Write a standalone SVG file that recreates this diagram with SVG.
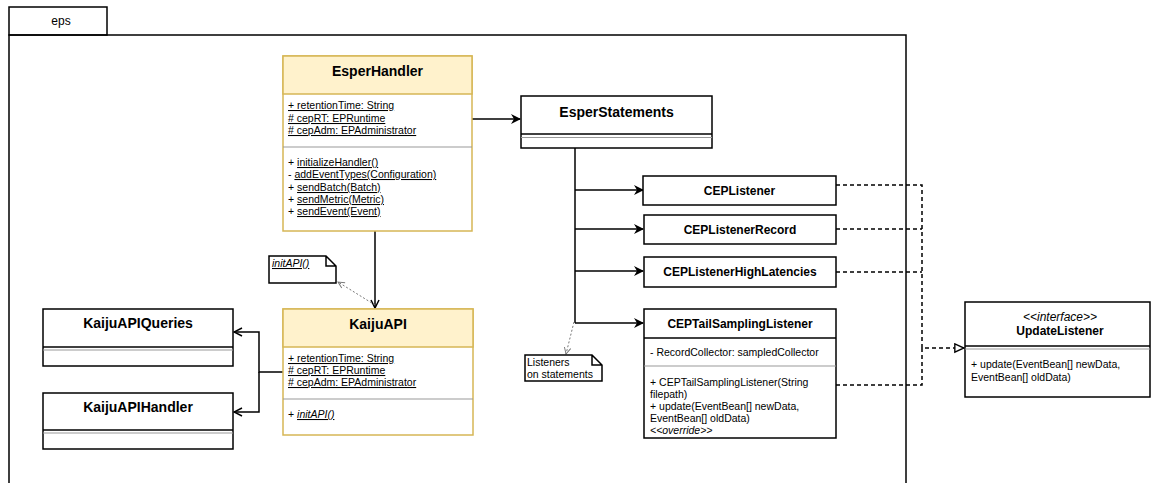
<svg xmlns="http://www.w3.org/2000/svg" width="1151" height="483" viewBox="0 0 1151 483">
  <style>
    text { font-family: "Liberation Sans", Arial, Helvetica, sans-serif; fill: #000; }
    .title { font-size: 14px; font-weight: bold; text-anchor: middle; }
    .small { font-size: 12px; }
    .body { font-size: 10.5px; }
    .stereo { font-size: 12px; font-style: italic; text-anchor: middle; }
    .pkg { font-size: 12px; text-anchor: middle; }
    .u { text-decoration: underline; }
    .i { font-style: italic; }
    .box { fill: #fff; stroke: #000; stroke-width: 1.5; }
    .ybox { fill: #fff; stroke: #d6b656; stroke-width: 1.5; }
    .yhead { fill: #fff2cc; stroke: #d6b656; stroke-width: 1.5; }
    .sep { stroke: #000; stroke-width: 1.5; }
    .thin { stroke: #999; stroke-width: 1; }
    .edge { fill: none; stroke: #000; stroke-width: 1.5; }
    .dash { fill: none; stroke: #000; stroke-width: 1.5; stroke-dasharray: 4 3; }
    .dot { fill: none; stroke: #777; stroke-width: 1; stroke-dasharray: 2 2; }
  </style>
  <defs>
    <marker id="classic" viewBox="0 0 10 10" refX="9" refY="5" markerWidth="10" markerHeight="10" markerUnits="userSpaceOnUse" orient="auto">
      <path d="M0,0 L10,5 L0,10 L3,5 z" fill="#000"/>
    </marker>
    <marker id="open" viewBox="0 0 10 10" refX="9" refY="5" markerWidth="10" markerHeight="10" markerUnits="userSpaceOnUse" orient="auto">
      <path d="M1,1 L9,5 L1,9" fill="none" stroke="#000" stroke-width="1.5"/>
    </marker>
    <marker id="openthin" viewBox="0 0 10 10" refX="9" refY="5" markerWidth="8" markerHeight="8" markerUnits="userSpaceOnUse" orient="auto">
      <path d="M1,1 L9,5 L1,9" fill="none" stroke="#777" stroke-width="1.2"/>
    </marker>
    <marker id="hollow" viewBox="0 0 12 12" refX="11" refY="6" markerWidth="11" markerHeight="11" markerUnits="userSpaceOnUse" orient="auto">
      <path d="M1,1.5 L11,6 L1,10.5 z" fill="#fff" stroke="#000" stroke-width="1.5"/>
    </marker>
  </defs>

  <!-- package "eps" -->
  <g id="package-eps">
    <rect x="9" y="7" width="98" height="28" fill="#fff" stroke="#000" stroke-width="1.5"/>
    <text class="pkg" x="61" y="25">eps</text>
    <rect x="9" y="35" width="897" height="460" fill="none" stroke="#000" stroke-width="1.5"/>
  </g>

  <!-- connectors -->
  <g id="connectors">
    <path class="edge" d="M472,119 H520" marker-end="url(#classic)"/>
    <path class="edge" d="M575,148 V323"/>
    <path class="edge" d="M575,190 H643" marker-end="url(#classic)"/>
    <path class="edge" d="M575,229 H643" marker-end="url(#classic)"/>
    <path class="edge" d="M575,271 H643" marker-end="url(#classic)"/>
    <path class="edge" d="M575,323 H643" marker-end="url(#classic)"/>
    <path class="edge" d="M375,231 V308" marker-end="url(#open)"/>
    <path class="edge" d="M283,372 H259 V332 H234" marker-end="url(#open)"/>
    <path class="edge" d="M259,372 V412 H234" marker-end="url(#open)"/>
    <path class="dash" d="M836,185 H922 V348 H964" marker-end="url(#hollow)"/>
    <path class="dash" d="M836,229 H922"/>
    <path class="dash" d="M836,272 H922"/>
    <path class="dash" d="M836,385 H922 V348"/>
    <path class="dot" d="M375,305 L338,282" marker-end="url(#openthin)"/>
    <path class="dot" d="M574,322 L566,354" marker-end="url(#openthin)"/>
  </g>

  <!-- EsperHandler -->
  <g id="EsperHandler">
    <rect class="ybox" x="283" y="56" width="189" height="175"/>
    <rect class="yhead" x="283" y="56" width="189" height="38"/>
    <text class="title" x="377.5" y="76">EsperHandler</text>
    <text class="body u" x="288" y="109">+ retentionTime: String</text>
    <text class="body u" x="288" y="122"># cepRT: EPRuntime</text>
    <text class="body u" x="288" y="134"># cepAdm: EPAdministrator</text>
    <line class="thin" x1="283" y1="147" x2="472" y2="147"/>
    <text class="body" x="288" y="166">+ <tspan class="u">initializeHandler()</tspan></text>
    <text class="body" x="288" y="178">- <tspan class="u">addEventTypes(Configuration)</tspan></text>
    <text class="body" x="288" y="191">+ <tspan class="u">sendBatch(Batch)</tspan></text>
    <text class="body" x="288" y="203">+ <tspan class="u">sendMetric(Metric)</tspan></text>
    <text class="body" x="288" y="215">+ <tspan class="u">sendEvent(Event)</tspan></text>
  </g>

  <!-- EsperStatements -->
  <g id="EsperStatements">
    <rect class="box" x="521" y="96" width="191" height="52"/>
    <line class="sep" x1="521" y1="134" x2="712" y2="134"/>
    <line class="thin" x1="521" y1="137.5" x2="712" y2="137.5"/>
    <text class="title" x="616.5" y="117">EsperStatements</text>
  </g>

  <!-- listeners -->
  <g id="CEPListener">
    <rect class="box" x="643" y="176" width="193" height="29"/>
    <text class="title small" x="739.5" y="194.5">CEPListener</text>
  </g>
  <g id="CEPListenerRecord">
    <rect class="box" x="644" y="215" width="192" height="29"/>
    <text class="title small" x="740" y="233.5">CEPListenerRecord</text>
  </g>
  <g id="CEPListenerHighLatencies">
    <rect class="box" x="644" y="257" width="192" height="30"/>
    <text class="title small" x="740" y="276">CEPListenerHighLatencies</text>
  </g>
  <g id="CEPTailSamplingListener">
    <rect class="box" x="644" y="309" width="192" height="129"/>
    <line class="sep" x1="644" y1="338" x2="836" y2="338"/>
    <text class="title small" x="740" y="328">CEPTailSamplingListener</text>
    <text class="body" x="650" y="355.5">- RecordCollector: sampledCollector</text>
    <line class="thin" x1="644" y1="366" x2="836" y2="366"/>
    <text class="body" x="650" y="386">+ CEPTailSamplingListener(String</text>
    <text class="body" x="650" y="398">filepath)</text>
    <text class="body" x="650" y="410">+ update(EventBean[] newData,</text>
    <text class="body" x="650" y="422">EventBean[] oldData)</text>
    <text class="body i" x="650" y="434">&lt;&lt;override&gt;&gt;</text>
  </g>

  <!-- UpdateListener interface -->
  <g id="UpdateListener">
    <rect class="box" x="965" y="302" width="185" height="95"/>
    <line class="sep" x1="965" y1="346" x2="1150" y2="346"/>
    <line class="thin" x1="965" y1="349" x2="1150" y2="349"/>
    <text class="stereo" x="1060" y="321">&lt;&lt;interface&gt;&gt;</text>
    <text class="title small" x="1060" y="335">UpdateListener</text>
    <text class="body" x="971" y="368">+ update(EventBean[] newData,</text>
    <text class="body" x="971" y="381">EventBean[] oldData)</text>
  </g>

  <!-- KaijuAPI -->
  <g id="KaijuAPI">
    <rect class="ybox" x="283" y="309" width="190" height="126"/>
    <rect class="yhead" x="283" y="309" width="190" height="38"/>
    <text class="title" x="378" y="329">KaijuAPI</text>
    <text class="body u" x="288" y="362">+ retentionTime: String</text>
    <text class="body u" x="288" y="374"># cepRT: EPRuntime</text>
    <text class="body u" x="288" y="386"># cepAdm: EPAdministrator</text>
    <line class="thin" x1="283" y1="399" x2="473" y2="399"/>
    <text class="body" x="288" y="418">+ <tspan class="u i">initAPI()</tspan></text>
  </g>

  <!-- KaijuAPIQueries -->
  <g id="KaijuAPIQueries">
    <rect class="box" x="43" y="309" width="190" height="57"/>
    <line class="sep" x1="43" y1="347" x2="233" y2="347"/>
    <line class="thin" x1="43" y1="350" x2="233" y2="350"/>
    <text class="title" x="138" y="328">KaijuAPIQueries</text>
  </g>

  <!-- KaijuAPIHandler -->
  <g id="KaijuAPIHandler">
    <rect class="box" x="43" y="393" width="190" height="56"/>
    <line class="sep" x1="43" y1="430" x2="233" y2="430"/>
    <line class="thin" x1="43" y1="433" x2="233" y2="433"/>
    <text class="title" x="138" y="412">KaijuAPIHandler</text>
  </g>

  <!-- notes -->
  <g id="note-initAPI">
    <path d="M269,256 H326 L336,266 V283 H269 Z M326,256 V266 H336" fill="#fff" stroke="#000" stroke-width="1.5"/>
    <text class="body u i" x="272" y="267">initAPI()</text>
  </g>
  <g id="note-listeners">
    <path d="M525,355 H592 L602,365 V381 H525 Z M592,355 V365 H602" fill="#fff" stroke="#000" stroke-width="1.5"/>
    <text class="body" x="527" y="366">Listeners</text>
    <text class="body" x="527" y="378">on statements</text>
  </g>
</svg>
